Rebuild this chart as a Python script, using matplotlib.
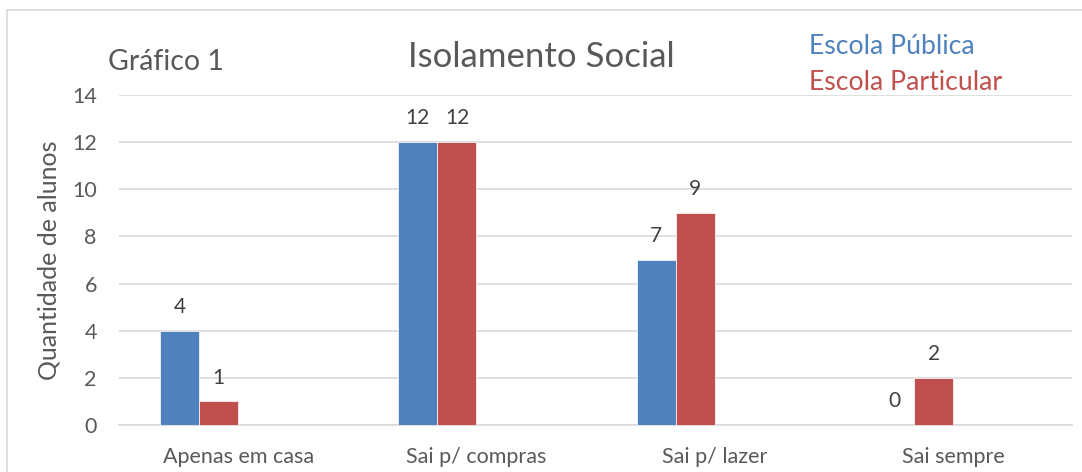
import matplotlib.pyplot as plt
from matplotlib.lines import Line2D
import numpy as np

plt.rcParams['font.family'] = ['Lato', 'DejaVu Sans']

categorias = ["Apenas em casa", "Sai p/ compras", "Sai p/ lazer", "Sai sempre"]
publica = [4, 12, 7, 0]
particular = [1, 12, 9, 2]
series = ["Escola Pública", "Escola Particular"]
yticks = [0, 2, 4, 6, 8, 10, 12, 14]

azul = "#4F81BD"
vermelho = "#C0504D"
cinza = "#595959"
grade = "#D9D9D9"

fig = plt.figure(figsize=(10.82, 4.72), dpi=100)
ax = fig.add_axes([0.110, 0.0996, 0.881, 0.6991])

x = np.arange(len(categorias))
w = 0.164
b1 = ax.bar(x - 1.5 * w, publica, w, color=azul, edgecolor="white", linewidth=0.5, zorder=3)
b2 = ax.bar(x - 0.5 * w, particular, w, color=vermelho, edgecolor="white", linewidth=0.5, zorder=3)

for barras in (b1, b2):
    ax.bar_label(barras, padding=10, fontsize=15, color="#404040")

ax.set_xlim(-0.5, 3.5)
ax.set_ylim(0, 14)
ax.set_yticks(yticks)
ax.set_xticks(x)
ax.set_xticklabels(categorias, fontsize=15.5, color=cinza)
ax.tick_params(axis="y", labelsize=15.5, labelcolor=cinza, length=0, pad=16)
ax.tick_params(axis="x", length=0, pad=16)
ax.grid(axis="y", color=grade, linewidth=1.2, zorder=0)
for s in ["top", "right", "left"]:
    ax.spines[s].set_visible(False)
ax.spines["bottom"].set_color(grade)
ax.spines["bottom"].set_linewidth(1.2)

ax.set_ylabel("Quantidade de alunos", fontsize=18, color=cinza, labelpad=8)

fig.text(0.5, 0.858, "Isolamento Social", ha="center", va="baseline", fontsize=25, color=cinza)
fig.text(0.100, 0.852, "Gráfico 1", ha="left", va="baseline", fontsize=20.5, color=cinza)
fig.text(0.748, 0.886, series[0], ha="left", va="baseline", fontsize=19.2, color=azul)
fig.text(0.748, 0.809, series[1], ha="left", va="baseline", fontsize=19.2, color=vermelho)

# moldura do gráfico
fig.add_artist(Line2D([0.0065, 0.0065], [0.0, 0.979], transform=fig.transFigure, color="#D9D9D9", linewidth=1.2))
fig.add_artist(Line2D([0.0065, 1.0], [0.979, 0.979], transform=fig.transFigure, color="#D9D9D9", linewidth=1.2))

fig.savefig("out.png", dpi=100)
